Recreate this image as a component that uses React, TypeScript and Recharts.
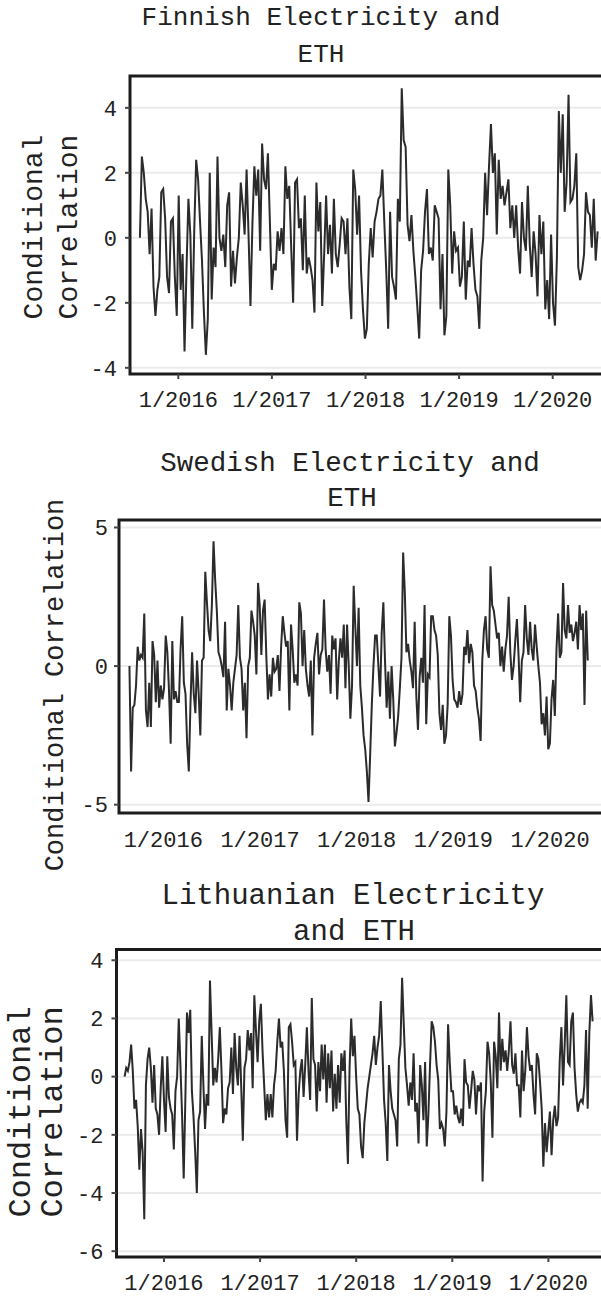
import React from "react";
import { LineChart, Line, XAxis, YAxis, CartesianGrid, ReferenceArea } from "recharts";

// x axis: decimal years, ticks labelled "1/yyyy"
const yearTicks = [2016, 2017, 2018, 2019, 2020];

// Finnish electricity and ETH (weekly, Aug 2015 - Jun 2020)
const finnishSpan = [2015.59, 2020.48];
const finnishTicks = [-4, -2, 0, 2, 4];
const finnishValues = [
  0.0, 2.5, 2.0, 1.2, 0.8, -0.5, 0.9, -1.5, -2.4, -1.6, -1.2, 1.4, 1.5, 0.6, -1.2, -1.7, 0.5, 0.6, -1.2, -2.4,
  1.3, -1.6, -0.5, -3.5, -1.0, 1.2, 0.1, -2.8, 0.2, 2.4, 1.8, 0.5, -0.7, -2.3, -3.6, -2.5, 2.0, -1.9, -0.3, -0.9,
  2.5, 0.0, -0.4, 0.1, -0.9, 1.0, 1.4, -1.5, -0.4, -1.4, -0.6, 0.0, 1.7, 1.0, 0.1, 2.1, 0.1, -2.1, 0.4, 2.2,
  1.3, 2.1, -0.4, 2.9, 1.8, 1.5, 2.6, 0.5, -1.6, -0.8, -1.0, 0.2, -0.4, 0.3, -0.5, 2.2, 1.2, 1.6, -0.3, -2.0,
  1.7, 1.8, 0.3, 0.6, -1.0, 1.3, -1.1, -0.6, -0.9, -1.3, -2.3, 1.7, 0.2, 1.1, -2.1, -0.5, 1.3, -0.5, 0.4, -1.1,
  1.2, -0.5, -0.9, -0.2, 0.6, 0.5, -0.5, 0.6, -1.5, -2.5, 2.1, 1.5, 0.1, 1.3, -1.0, -2.2, -3.1, -2.8, -0.8, 0.3,
  -0.6, 0.5, 0.8, 1.2, 1.3, 2.1, 0.5, -1.0, -2.8, 0.8, -1.2, -1.5, -1.9, 1.2, 0.5, 4.6, 3.0, 2.8, 0.4, -0.1,
  0.7, -0.4, -1.2, -2.1, -3.1, -1.0, -0.4, 0.8, 1.5, -0.5, -0.3, -0.7, 1.0, 0.8, 0.6, -2.2, -0.5, -3.0, -2.4, 2.1,
  1.0, -1.1, 0.2, -0.4, -0.3, -1.5, -1.2, 0.5, -1.9, -0.7, -0.9, 0.3, -0.8, -1.6, -1.8, -2.8, -0.7, 0.0, 2.0, 0.7,
  2.2, 3.5, 2.0, 2.6, 0.1, 2.4, 1.2, 1.6, 1.0, 1.4, 1.8, 0.3, 1.0, 0.0, 1.0, -0.3, -1.1, 1.1, 0.0, -0.4,
  1.6, -0.2, -1.2, 0.2, -0.5, -1.8, 0.7, -0.5, 0.5, -2.2, -1.3, -2.5, 0.1, -2.0, -2.7, -0.6, 3.9, 2.0, 3.8, 0.8,
  1.7, 4.4, 1.1, 1.2, 1.6, 2.6, -0.9, -1.3, -1.0, -0.5, 1.4, 0.8, 0.7, -0.3, 1.2, -0.7, 0.2,
];

// Swedish electricity and ETH
const swedishSpan = [2015.65, 2020.39];
const swedishTicks = [-5, 0, 5];
const swedishValues = [
  0.0, -3.8, -1.5, -1.4, -0.7, 0.7, 0.2, 0.4, 0.3, 1.9, -1.6, -2.2, -0.6, -2.2, 0.9, 0.4, -1.3, 0.2, -1.5, -0.7,
  -1.2, -0.8, 1.1, 0.5, -0.9, -2.8, 0.9, -1.2, -0.9, -1.3, -1.3, 0.6, 1.8, -0.6, -1.0, -2.8, -3.8, -1.4, 0.5, -1.0,
  -1.7, 0.2, -1.0, -2.5, 0.2, 0.3, 3.4, 2.3, 1.3, 0.9, 2.2, 4.5, 3.1, 2.0, 0.5, 0.3, 0.0, -0.4, 1.6, -1.6,
  -0.1, -0.7, -1.6, -0.6, -0.1, 0.4, 2.2, 0.3, -0.1, -1.6, -0.6, -2.6, 0.0, 0.3, 2.0, 1.6, 1.1, -0.3, 3.0, 2.2,
  0.4, 2.0, 2.4, 0.4, -1.2, -0.3, -1.1, 0.3, -0.2, -0.1, 0.4, -0.9, 0.7, 1.8, 1.2, 0.7, 0.9, -1.6, 1.5, 0.6,
  -0.6, -0.3, -0.7, 2.3, 1.9, 0.0, 1.3, -0.1, -0.7, -1.1, 0.2, -2.5, 0.3, 0.8, 1.2, -0.3, 0.4, 0.6, 2.4, 0.6,
  -0.2, 0.4, -1.0, 1.1, 0.6, 1.0, -1.2, 0.2, 1.0,
  0.3, 1.5, -0.8, 1.5, 0.0, -1.9, -0.7, 2.9, 1.4, 0.0, 2.1, -0.7, -1.5, -2.5, -3.0, -3.8, -4.9, -3.2, -1.4, 0.0,
  1.1, 1.1, 0.0, -1.1, 1.2, 2.3, 0.2, -1.5, -0.2, -1.9, 0.0, -1.2, -2.9, -2.4, -1.8, -0.8, 0.3, 4.1, 2.7, 0.5,
  0.8, 0.2, -0.2, -0.8, 1.6, -1.1, -2.3, -0.4, 0.3, -0.6, 2.2, -2.1, -0.3, -0.4, 1.8, 1.8, 1.3, 1.1, 0.4, -1.7,
  -2.3, -1.4, -2.8, -2.5, -1.4, 1.8, 1.1, -0.5, -1.2, -1.3, -1.5, -0.9, -1.4, -1.0, 0.7, 0.4, 1.3, 0.1, 0.8, 0.5,
  -0.7, -0.9, -1.5, -1.9, -2.7, 0.2, 1.3, 1.8, 0.6, 0.3, 3.6, 2.2, 2.0, 1.5, 1.0, 1.2, 0.0, 0.7, -0.2, 0.6,
  1.1, 2.5, 0.5, -0.5, 0.0, 0.9, 1.7, 0.4, -1.3, 0.2, 0.5, 2.2, 1.0, 0.4, 1.6, 0.6, 0.2, 1.5, 0.7, 0.0,
  -0.6, -2.1, -1.7, -2.5, -1.1, -3.0, -2.8, -1.2, -0.5, -1.8, 0.6, 1.9, 0.3, 0.5, 3.0, 1.3, 1.0, 2.2, 1.2, 1.5,
  0.9, 1.2, 1.6, 0.6, 2.2, 1.3, 1.9, -1.4, 2.0, 0.2,
];

// Lithuanian electricity and ETH
const lithuanianSpan = [2015.59, 2020.46];
const lithuanianTicks = [-6, -4, -2, 0, 2, 4];
const lithuanianValues = [
  0.0, 0.3, 0.2, 0.5, 1.1, 0.2, -1.1, -0.8, -1.7, -3.2, -1.8, -2.6, -4.9, -0.3, 0.6, 1.0, 0.3, -0.9, 0.4, -1.1,
  -1.3, -2.0, -0.4, 0.7, -0.8, -1.9, 0.7, -0.7, -1.1, -1.3, -2.5, -0.5, 0.0, 2.0, 0.4, -1.3, -3.5, -0.8, 2.2, 1.5,
  2.3, -0.5, -1.4, -2.6, -4.0, -1.5, -1.2, 1.4, -0.3, -1.8, -0.6, -1.0, 3.3, 1.5, -0.3, 0.3, -0.2, 0.6, 1.7, 0.2,
  -1.6, -1.1, -1.3, -0.4, -0.2, 1.0, -0.6, 1.5, 0.3, -0.3, 1.4, -0.3, -2.2, 0.3, 0.6, 1.6, 0.9, 1.5, -0.4, 2.8,
  1.6, 0.5, 1.9, 2.5, 0.9, -0.3, -1.5, -0.6, -1.4, -0.6, -1.4, -0.3, 0.2, 1.2, 2.0, 1.0, 1.2, 0.2, -1.5, -2.1,
  1.7, 1.8, 1.2, 0.4, 0.5, -2.2, -0.6, 0.2, 0.6, -0.7, 0.4, 1.7, 0.2, -0.8, 2.7, 0.6, 0.4, -1.2, 0.5, -0.5,
  1.1, -0.1, 1.1, -0.9, 0.8, -0.4, 0.9, -1.2, 0.1, -1.1, 0.4,
  -0.9, 0.8, 0.2, 0.9, -1.5, -3.0, 0.3, 2.0, 0.7, 1.4, 0.0, -1.1, -1.3, -2.4, -2.8, -1.6, -1.0, -0.4, 0.0, 0.4,
  0.8, 1.4, 0.4, 1.0, 1.4, 2.6, 0.9, -0.8, -1.6, -2.9, 0.4, -0.5, -1.1, -1.3, -1.5, -2.4, 0.6, 1.1, 3.4, 1.8,
  0.3, -0.3, -1.0, -0.2, -0.8, 0.8, -1.2, -0.9, -2.3, 0.4, -0.3, -1.5, 0.5, -2.4, -1.3, 0.4, 1.9, 1.7, 1.2, 0.4,
  -0.1, -1.8, -1.6, -1.8, -2.4, -1.2, 1.8, 0.5, -0.5, -0.5, -1.3, -1.0, -1.4, -1.6, -1.1, -1.7, 0.6, -0.2, -0.3, -1.1,
  -0.5, 0.2, -0.1, -1.3, -0.3, -0.5, -0.2, -3.6, -1.2, -0.5, 1.2, 0.8, -0.2, -2.1, 1.2, 0.7, -0.4, 2.2, 0.2, 1.3,
  0.5, 0.9, 0.2, 0.9, 1.9, 0.4, 0.1, 0.8, -0.3, -0.3, -1.4, 0.9, -0.5, 0.2, 1.7, 0.7, 0.2, 0.4, -0.6, -1.3,
  0.8, 0.6, -0.2, -1.1, -3.1, -1.6, -2.6, -1.9, -1.2, -2.7, -1.5, -1.0, -1.7, -1.4, 0.6, 1.7, -0.3, 1.1, 2.8, 0.5,
  0.4, 1.9, 2.2, 0.3, -0.6, -1.2, -0.9, -0.8, -0.9, -0.3, 1.6, -1.1, 1.5, 2.8, 1.9,
];

const FONT = '"Liberation Mono", "Courier New", monospace';
const TEXT = "#222";
const CHART_W = 640;
const AXIS_W = 60;
const AXIS_H = 40;

function buildSeries(values: number[], span: number[]) {
  const step = (span[1] - span[0]) / (values.length - 1);
  return values.map((v, i) => ({ t: span[0] + i * step, v }));
}

function CenteredText({ x, y, size, rotate, children }: any) {
  return (
    <div
      style={{
        position: "absolute",
        left: x,
        top: y,
        transform: `translate(-50%, -50%)${rotate ? " rotate(-90deg)" : ""}`,
        whiteSpace: "nowrap",
        fontSize: size,
        lineHeight: 1,
        color: TEXT,
      }}
    >
      {children}
    </div>
  );
}

function Panel(props: any) {
  const { top, height, plotTop, plotLeft, plotBottom, xDomain, yDomain, yTicks, values, span, xTickLine, xGap, yGap } = props;
  const data = buildSeries(values, span);
  return (
    <div style={{ position: "absolute", left: 0, top, width: CHART_W, height }}>
      <LineChart
        width={CHART_W}
        height={height}
        data={data}
        margin={{ top: plotTop, left: plotLeft - AXIS_W, right: 20, bottom: height - plotBottom - AXIS_H }}
      >
        <CartesianGrid vertical={false} stroke="#ebebeb" strokeWidth={2} />
        <XAxis
          type="number"
          dataKey="t"
          domain={xDomain}
          ticks={yearTicks}
          interval={0}
          allowDataOverflow
          height={AXIS_H}
          axisLine={false}
          tickLine={xTickLine ? { stroke: "#444", strokeWidth: 2 } : false}
          tickSize={5}
          tickMargin={xGap}
          tickFormatter={(y: number) => `1/${y}`}
          tick={{ fill: TEXT, fontSize: 22, fontFamily: FONT }}
        />
        <YAxis
          type="number"
          domain={yDomain}
          ticks={yTicks}
          interval={0}
          allowDataOverflow
          width={AXIS_W}
          axisLine={false}
          tickLine={{ stroke: "#444", strokeWidth: 2 }}
          tickSize={5}
          tickMargin={yGap}
          tick={{ fill: TEXT, fontSize: 22, fontFamily: FONT }}
        />
        <Line
          type="linear"
          dataKey="v"
          stroke="#2b2b2b"
          strokeWidth={2}
          dot={false}
          isAnimationActive={false}
        />
        <ReferenceArea
          x1={xDomain[0]}
          x2={xDomain[1]}
          y1={yDomain[0]}
          y2={yDomain[1]}
          fill="none"
          stroke="#1c1c1c"
          strokeWidth={3}
          ifOverflow="visible"
        />
      </LineChart>
    </div>
  );
}

export default function App() {
  return (
    <div
      style={{
        position: "absolute",
        left: 0,
        top: 0,
        width: 601,
        height: 1298,
        overflow: "hidden",
        background: "#fff",
        fontFamily: FONT,
      }}
    >
      <Panel
        top={0}
        height={430}
        plotTop={76}
        plotLeft={130}
        plotBottom={374}
        xDomain={[2015.484, 2020.719]}
        yDomain={[-4.19, 4.98]}
        yTicks={finnishTicks}
        values={finnishValues}
        span={finnishSpan}
        xTickLine
        xGap={12}
        yGap={8}
      />
      <CenteredText x={321} y={18} size={26}>Finnish Electricity and</CenteredText>
      <CenteredText x={321} y={55} size={26}>ETH</CenteredText>
      <CenteredText x={35} y={227} size={28} rotate>Conditional</CenteredText>
      <CenteredText x={70} y={227} size={28} rotate>Correlation</CenteredText>

      <Panel
        top={430}
        height={430}
        plotTop={90}
        plotLeft={119}
        plotBottom={383}
        xDomain={[2015.542, 2020.723]}
        yDomain={[-5.3, 5.27]}
        yTicks={swedishTicks}
        values={swedishValues}
        span={swedishSpan}
        xTickLine={false}
        xGap={13}
        yGap={6}
      />
      <CenteredText x={350} y={464} size={27.5}>Swedish Electricity and</CenteredText>
      <CenteredText x={352} y={499} size={27.5}>ETH</CenteredText>
      <CenteredText x={56} y={685} size={27} rotate>Conditional Correlation</CenteredText>

      <Panel
        top={860}
        height={438}
        plotTop={89.5}
        plotLeft={116.5}
        plotBottom={397}
        xDomain={[2015.506, 2020.745]}
        yDomain={[-6.2, 4.37]}
        yTicks={lithuanianTicks}
        values={lithuanianValues}
        span={lithuanianSpan}
        xTickLine
        xGap={12}
        yGap={8}
      />
      <CenteredText x={353} y={896} size={29}>Lithuanian Electricity</CenteredText>
      <CenteredText x={354} y={932} size={29}>and ETH</CenteredText>
      <CenteredText x={22} y={1112} size={32} rotate>Conditional</CenteredText>
      <CenteredText x={54} y={1112} size={32} rotate>Correlation</CenteredText>
    </div>
  );
}
